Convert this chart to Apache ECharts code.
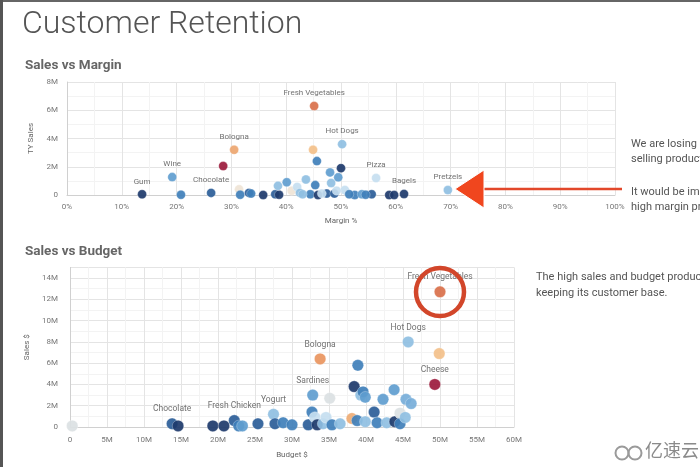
<!DOCTYPE html>
<html><head><meta charset="utf-8">
<script src="https://cdn.jsdelivr.net/npm/echarts@6/dist/echarts.min.js"></script>
<style>html,body{margin:0;padding:0;background:#fff}#c{width:700px;height:467px}</style>
</head><body><div id="c"></div>
<script>
// ---- Sales vs Margin (top) ----
const marginNames = ['Gum','Wine','','Chocolate','','Bologna','','','','','','','','','','','','','','','','Fresh Vegetables','','','','','','','','','Hot Dogs','','','','','Pizza','','','Bagels','Pretzels','','','','','',''];
const marginPct   = [13.7,19.2,20.8,26.3,28.5,30.5,31.4,31.6,33.2,33.6,35.8,38.0,38.7,38.5,40.1,41.0,42.0,42.5,43.6,44.4,45.3,45.1,44.9,45.6,45.8,47.4,48.0,48.2,49.5,50.0,50.2,50.7,52.5,53.8,55.6,56.4,58.8,59.7,61.5,69.5,43.0,46.5,48.8,49.2,51.5,54.5];
const marginSales = [0.05,1.27,0.02,0.15,2.05,3.2,0.4,0.02,0.15,0.1,0.0,0.05,0.02,0.65,0.9,0.3,0.57,0.15,1.1,0.05,0.7,6.3,3.2,2.4,0.0,0.1,1.6,0.85,1.25,1.9,3.6,0.35,0.0,0.05,0.05,1.2,0.0,0.0,0.07,0.35,0.05,0.1,0.1,0.3,0.05,0.02];
const marginScore = [0,3,2,1,10,7.6,6,2,1,2,0,1,0,4,3,6,5,4,4,2,2,9,7,2,0,1,3,4,3,0,4,5,2,3,1,5,0,0,0,4,4,5,1,5,2,2];

// ---- Sales vs Budget (bottom) ----
const budgetNames = ['','Chocolate','','','','Fresh Chicken','','','','Yogurt','','','','','Sardines','','','','Bologna','','','','','','','','','','','','','','','','','','','','','','','Hot Dogs','','','Cheese','','Fresh Vegetables'];
const budgetVals  = [0.3,13.8,14.6,19.3,20.8,22.2,22.8,23.3,25.4,27.5,27.7,28.8,30.0,32.2,32.8,32.7,33.1,33.4,33.8,34.2,34.6,35.1,35.4,36.5,38.1,38.4,38.8,38.9,39.3,39.6,39.9,39.9,41.1,41.5,42.3,42.8,43.8,43.9,44.6,44.6,45.3,45.7,45.4,46.1,49.3,49.9,50.0];
const budgetSales = [0.1,0.3,0.1,0.1,0.1,0.6,0.1,0.1,0.3,1.2,0.3,0.4,0.2,0.2,3.0,1.4,0.9,0.2,6.4,0.3,0.9,2.7,0.2,0.3,0.8,3.8,0.6,5.8,3.0,3.3,2.8,0.5,1.4,0.4,2.6,0.4,3.5,0.5,1.3,0.3,0.9,8.0,2.6,2.2,4.0,6.9,12.7];
const budgetScore = [5.5,1,0,0,0,1,2,3,1,4,1,2,2,1,3,2,5,0,8,4,5,5.5,2,4,7.5,0,2,2,4,2,3,4,1,2,3,4,3,0,5.5,2,4,4,3.5,3.5,10,7,9];

const palette = ['#1d3a6b','#2b5d98','#3f7fba','#5f9dcf','#8fbfe2','#c6def0','#efe4d6','#f3c08a','#e9955e','#d9704a','#9c1a3c'];

const topData = marginPct.map((v,i)=>[v, marginSales[i], marginScore[i], marginNames[i]]);
const botData = budgetVals.map((v,i)=>[v, budgetSales[i], budgetScore[i], budgetNames[i]]);

const FONT = 'Roboto, "Open Sans", sans-serif';
const gridLine = {show:true, lineStyle:{color:'#e4e4e4', width:1}};
const minorLine = {show:true, lineStyle:{color:'#f3f3f3', width:1}};
const axLabel = {color:'#777', fontSize:8, fontFamily:FONT};
const axName = {color:'#666', fontSize:8, fontFamily:FONT};

const chart = echarts.init(document.getElementById('c'), null, {renderer:'canvas'});
chart.setOption({
  animation:false,
  backgroundColor:'#fff',
  grid:[
    {left:67, top:82, width:548, height:113},
    {left:70, top:267.4, width:444, height:159.6}
  ],
  xAxis:[
    {gridIndex:0, type:'value', min:0, max:100, interval:10,
     axisLine:{show:true, lineStyle:{color:'#d0d0d0'}}, axisTick:{show:false},
     axisLabel:Object.assign({formatter:v=>v+'%', margin:8}, axLabel),
     splitLine:gridLine, minorTick:{show:false, splitNumber:2}, minorSplitLine:minorLine,
     name:'Margin %', nameLocation:'middle', nameGap:22, nameTextStyle:axName},
    {gridIndex:1, type:'value', min:0, max:60, interval:5,
     axisLine:{show:true, lineStyle:{color:'#d0d0d0'}}, axisTick:{show:false},
     axisLabel:Object.assign({formatter:v=>v===0?'0':v+'M', margin:9}, axLabel),
     splitLine:gridLine, minorTick:{show:false, splitNumber:2}, minorSplitLine:minorLine,
     name:'Budget $', nameLocation:'middle', nameGap:24, nameTextStyle:axName}
  ],
  yAxis:[
    {gridIndex:0, type:'value', min:0, max:8, interval:2,
     axisLine:{show:true, lineStyle:{color:'#d0d0d0'}}, axisTick:{show:false},
     axisLabel:Object.assign({formatter:v=>v===0?'0':v+'M', margin:9}, axLabel),
     splitLine:gridLine, minorTick:{show:false, splitNumber:2}, minorSplitLine:minorLine,
     name:'TY Sales', nameLocation:'middle', nameGap:32, nameTextStyle:axName},
    {gridIndex:1, type:'value', min:0, max:15, interval:2,
     axisLine:{show:true, lineStyle:{color:'#d0d0d0'}}, axisTick:{show:false},
     axisLabel:Object.assign({formatter:v=>v===0?'0':v+'M', margin:12, showMaxLabel:false}, axLabel),
     splitLine:gridLine, minorTick:{show:false, splitNumber:2}, minorSplitLine:minorLine,
     name:'Sales $', nameLocation:'middle', nameGap:36, nameTextStyle:axName}
  ],
  visualMap:[{type:'continuous', show:false, dimension:2, min:0, max:10, seriesIndex:[0,1],
    inRange:{color:palette}}],
  series:[
    {type:'scatter', xAxisIndex:0, yAxisIndex:0, data:topData, symbolSize:9,
     itemStyle:{opacity:0.92, borderColor:'rgba(255,255,255,0.6)', borderWidth:0.5},
     label:{show:true, position:'top', distance:4, formatter:p=>p.data[3]||'', color:'#666', fontSize:8, fontFamily:FONT}},
    {type:'scatter', xAxisIndex:1, yAxisIndex:1, data:botData, symbolSize:11.5,
     itemStyle:{opacity:0.92, borderColor:'rgba(255,255,255,0.6)', borderWidth:0.5},
     label:{show:true, position:'top', distance:4, formatter:p=>p.data[3]||'', color:'#666', fontSize:8.5, fontFamily:FONT}}
  ],
  graphic:[
    {type:'rect', shape:{x:0,y:0,width:700,height:2}, style:{fill:'#666'}, silent:true},
    {type:'rect', shape:{x:0,y:0,width:3,height:467}, style:{fill:'#555'}, silent:true},
    {type:'text', x:22, y:9, style:{text:'Customer Retention', fill:'#555', font:'300 32px Roboto'}},
    {type:'text', x:25, y:59, style:{text:'Sales vs Margin', fill:'#666', font:'bold 13.5px Roboto'}},
    {type:'text', x:25, y:245, style:{text:'Sales vs Budget', fill:'#666', font:'bold 13.5px Roboto'}},
    {type:'text', x:631, y:137, style:{text:'We are losing customers on our top\nselling products.', fill:'#555', font:'11px Roboto', lineHeight:15}},
    {type:'text', x:631, y:185, style:{text:'It would be important to keep these\nhigh margin products in stock.', fill:'#555', font:'11px Roboto', lineHeight:15}},
    {type:'text', x:536, y:269, style:{text:'The high sales and budget products are\nkeeping its customer base.', fill:'#555', font:'11px Roboto', lineHeight:16}},
    // arrow
    {type:'line', z:100, shape:{x1:480,y1:189,x2:622,y2:189}, style:{stroke:'#e2472a', lineWidth:2.5}},
    {type:'polygon', z:100, shape:{points:[[455,189],[484,170],[484,208]]}, style:{fill:'#f0461e', stroke:'#fff', lineWidth:1}},
    // circle
    {type:'circle', z:100, shape:{cx:440, cy:292, r:24}, style:{fill:null, stroke:'#d2462a', lineWidth:4.5}},
    // watermark
    {type:'circle', shape:{cx:622, cy:453, r:6.5}, style:{fill:null, stroke:'#9a9a9a', lineWidth:2}},
    {type:'circle', shape:{cx:635, cy:453, r:6.5}, style:{fill:null, stroke:'#9a9a9a', lineWidth:2}},
    {type:'text', x:645, y:441, style:{text:'亿速云', fill:'#8a8a8a', font:'18px "Noto Sans CJK SC"'}}
  ]
});
</script></body></html>
